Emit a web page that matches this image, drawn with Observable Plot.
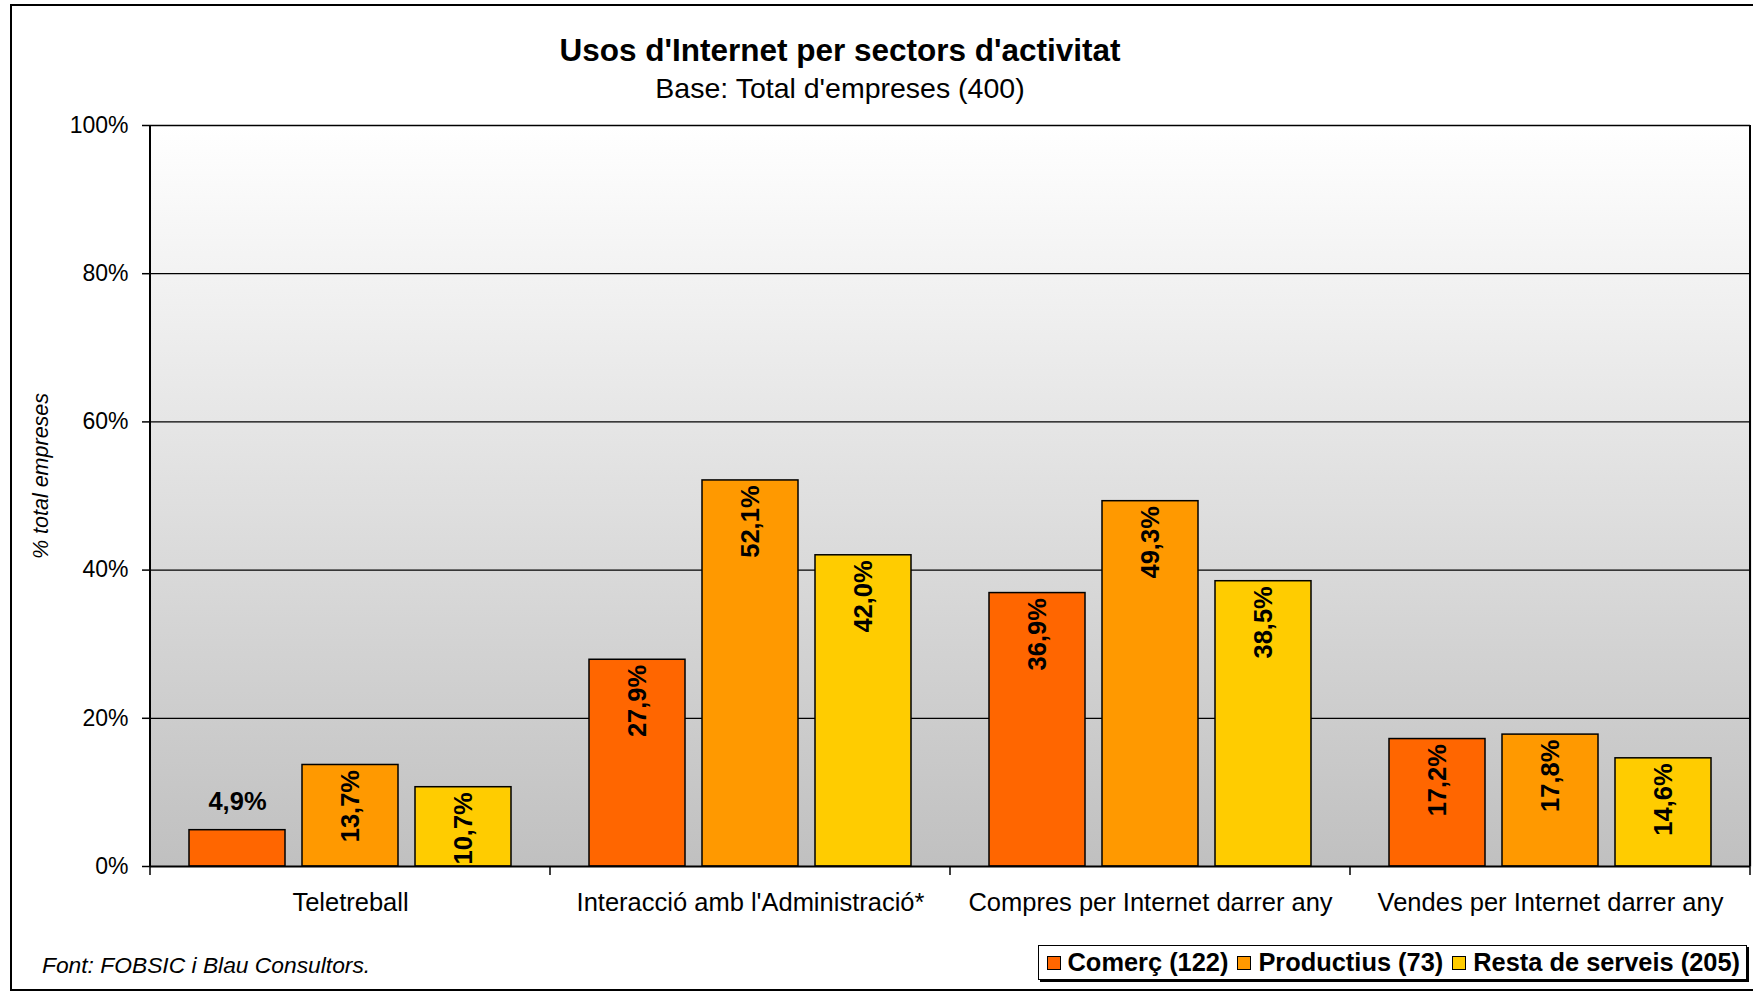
<!DOCTYPE html>
<html><head><meta charset="utf-8">
<script src="https://cdn.jsdelivr.net/npm/d3@7"></script>
<script src="https://cdn.jsdelivr.net/npm/@observablehq/plot@0.6"></script>
<style>
html,body{margin:0;padding:0;background:#fff;overflow:hidden;}
#wrap{position:relative;width:1753px;height:995px;overflow:hidden;font-family:"Liberation Sans",Arial,sans-serif;color:#000;}
#frame{position:absolute;left:10px;top:4px;width:1760px;height:987px;border:2px solid #000;box-sizing:border-box;}
#title{position:absolute;left:0;width:1680px;top:35px;text-align:center;font-size:31.5px;font-weight:bold;line-height:1;white-space:nowrap;}
#subtitle{position:absolute;left:0;width:1680px;top:74px;text-align:center;font-size:28.5px;line-height:1;white-space:nowrap;}
#ylabel{position:absolute;left:42px;top:476px;transform:translate(-50%,-50%) rotate(-90deg);font-size:21.5px;font-style:italic;white-space:nowrap;line-height:1;}
#chart{position:absolute;left:0;top:100px;}
#caption{position:absolute;left:42px;top:954px;font-size:22.8px;font-style:italic;line-height:1;white-space:nowrap;}
#legend{position:absolute;right:6px;top:945px;height:35px;box-sizing:border-box;border:1.5px solid #000;box-shadow:2px 2px 0 #000;display:flex;align-items:center;padding:0 6px 0 8px;background:#fff;font-size:25.4px;font-weight:bold;white-space:nowrap;}
#legend .sw{width:12px;height:12px;border:1.5px solid #000;margin-right:7px;}
#legend .it{display:flex;align-items:center;margin-right:9px;}
#legend .it:last-child{margin-right:0;}
</style></head><body>
<div id="wrap">
  <div id="frame"></div>
  <div id="title"></div>
  <div id="subtitle"></div>
  <div id="ylabel"></div>
  <div id="chart"></div>
  <div id="caption"></div>
  <div id="legend"></div>
</div>
<script>
const titleText = "Usos d'Internet per sectors d'activitat";
const subtitleText = "Base: Total d'empreses (400)";
const yLabelText = "% total empreses";
const captionText = "Font: FOBSIC i Blau Consultors.";

const categories = ["Teletreball", "Interacció amb l'Administració*", "Compres per Internet darrer any", "Vendes per Internet darrer any"];
const series = ["Comerç (122)", "Productius (73)", "Resta de serveis (205)"];
const comerc = [4.9, 27.9, 36.9, 17.2];
const productius = [13.7, 52.1, 49.3, 17.8];
const resta = [10.7, 42.0, 38.5, 14.6];
const yTicks = [0, 20, 40, 60, 80, 100];
const gridValues = [20, 40, 60, 80, 100];
const colors = ["#FF6600", "#FF9900", "#FFCC00"];

document.getElementById("title").textContent = titleText;
document.getElementById("subtitle").textContent = subtitleText;
document.getElementById("ylabel").textContent = yLabelText;
document.getElementById("caption").textContent = captionText;

const seriesValues = [comerc, productius, resta];
const data = [];
categories.forEach((c, i) => series.forEach((s, j) => data.push({cat: c, series: s, value: seriesValues[j][i]})));
const fmt = v => v.toFixed(1).replace(".", ",") + "%";
const tall = data.filter(d => d.value >= 8);
const short = data.filter(d => d.value < 8);

const chart = Plot.plot({
  width: 1753,
  height: 830,
  marginTop: 25,
  marginBottom: 64,
  marginLeft: 150,
  marginRight: 3,
  style: {fontFamily: "'Liberation Sans', Arial, sans-serif", color: "#000", background: "transparent"},
  fx: {domain: categories, padding: 0, label: null},
  x: {domain: series, axis: null, paddingInner: 0.154, paddingOuter: 0.339},
  y: {domain: [0, 100], axis: null},
  color: {domain: series, range: colors},
  marks: [
    Plot.frame({fill: "url(#bg)", stroke: null, insetLeft: -1, insetRight: -1}),
    Plot.ruleY(gridValues, {stroke: "#000", strokeWidth: 1.3}),
    Plot.barY(data, {fx: "cat", x: "series", y: "value", fill: "series", stroke: "#000", strokeWidth: 1.5}),
    Plot.ruleY([0], {stroke: "#000", strokeWidth: 2}),
    Plot.text(tall, {fx: "cat", x: "series", y: "value", text: d => fmt(d.value), rotate: -90, textAnchor: "end", lineAnchor: "middle", dy: 5, fontSize: 25.5, fontWeight: "bold", fill: "#000"}),
    Plot.text(short, {fx: "cat", x: "series", y: "value", text: d => fmt(d.value), textAnchor: "middle", lineAnchor: "bottom", dy: -20, fontSize: 25.5, fontWeight: "bold", fill: "#000"}),
    Plot.axisY({ticks: yTicks, tickFormat: d => d + "%", tickSize: 8, tickPadding: 14, fontSize: 23, label: null, strokeWidth: 1.5}),
    Plot.axisFx({anchor: "bottom", tickSize: 0, tickPadding: 26, fontSize: 25.5, label: null})
  ]
});
document.getElementById("chart").appendChild(chart);

const svg = d3.select(chart);
svg.insert("defs", ":first-child").html('<linearGradient id="bg" x1="0" y1="0" x2="0" y2="1"><stop offset="0" stop-color="#ffffff"/><stop offset="1" stop-color="#c0c0c0"/></linearGradient>');

const fxs = chart.scale("fx"), ys = chart.scale("y");
const band = d3.scaleBand(fxs.domain, fxs.range).paddingInner(fxs.paddingInner || 0).paddingOuter(fxs.paddingOuter || 0).align(fxs.align ?? 0.5);
const edges = categories.map(c => band(c)).concat([band(categories[categories.length - 1]) + band.bandwidth()]);
const y0 = ys.apply(0), y1 = ys.apply(100);
const g = svg.append("g").attr("stroke", "#000").attr("fill", "none");
edges.forEach(x => g.append("line").attr("x1", x).attr("x2", x).attr("y1", y0).attr("y2", y0 + 9).attr("stroke-width", 1.5));
g.append("line").attr("x1", edges[0]).attr("x2", edges[0]).attr("y1", y1).attr("y2", y0).attr("stroke-width", 2);
g.append("line").attr("x1", edges[edges.length - 1]).attr("x2", edges[edges.length - 1]).attr("y1", y1).attr("y2", y0).attr("stroke-width", 2);

const legend = d3.select("#legend");
series.forEach((s, i) => {
  const it = legend.append("div").attr("class", "it");
  it.append("div").attr("class", "sw").style("background", colors[i]);
  it.append("span").text(s);
});
</script>
</body></html>
